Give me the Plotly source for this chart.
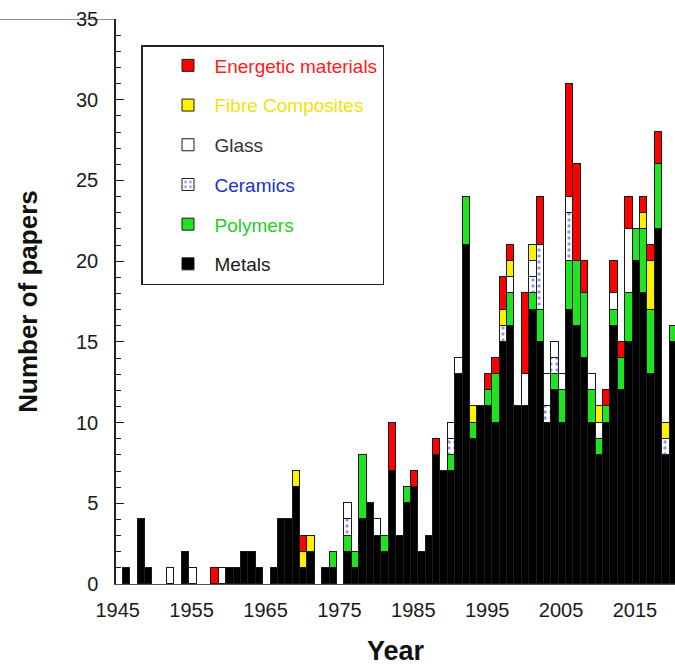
import plotly.graph_objects as go

years = list(range(1945, 2020))

metals = [1, 0, 4, 1, 0, 0, 0, 0, 2, 0,
          0, 0, 0, 0, 1, 1, 2, 2, 1, 0,
          1, 4, 4, 6, 1, 2, 0, 1, 1, 0,
          2, 1, 4, 5, 3, 2, 7, 3, 5, 6,
          2, 3, 8, 7, 7, 13, 21, 9, 11, 11,
          10, 15, 16, 11, 11, 17, 15, 10, 12, 10,
          17, 16, 14, 10, 8, 10, 16, 12, 15, 20,
          18, 13, 22, 8, 15]
polymers = [0, 0, 0, 0, 0, 0, 0, 0, 0, 0,
            0, 0, 0, 0, 0, 0, 0, 0, 0, 0,
            0, 0, 0, 0, 0, 0, 0, 0, 1, 0,
            1, 1, 4, 0, 0, 1, 0, 0, 1, 0,
            0, 0, 0, 0, 1, 0, 3, 1, 0, 1,
            3, 0, 2, 0, 0, 1, 2, 0, 1, 2,
            3, 4, 4, 2, 1, 1, 1, 2, 3, 2,
            4, 4, 4, 0, 1]
ceramics = [0, 0, 0, 0, 0, 0, 0, 0, 0, 0,
            0, 0, 0, 0, 0, 0, 0, 0, 0, 0,
            0, 0, 0, 0, 0, 0, 0, 0, 0, 0,
            1, 0, 0, 0, 0, 0, 0, 0, 0, 0,
            0, 0, 0, 0, 1, 0, 0, 0, 0, 0,
            0, 1, 0, 0, 0, 1, 4, 1, 1, 0,
            3, 0, 0, 0, 0, 0, 0, 0, 0, 0,
            0, 0, 0, 1, 0]
glass = [0, 0, 0, 0, 0, 0, 1, 0, 0, 1,
         0, 0, 0, 1, 0, 0, 0, 0, 0, 0,
         0, 0, 0, 0, 0, 0, 0, 0, 0, 0,
         1, 0, 0, 0, 1, 0, 0, 0, 0, 0,
         0, 0, 0, 0, 1, 1, 0, 0, 0, 0,
         0, 0, 1, 0, 2, 1, 0, 2, 1, 1,
         1, 0, 0, 1, 1, 0, 1, 0, 4, 0,
         0, 0, 0, 0, 0]
fibre = [0, 0, 0, 0, 0, 0, 0, 0, 0, 0,
         0, 0, 0, 0, 0, 0, 0, 0, 0, 0,
         0, 0, 0, 1, 1, 1, 0, 0, 0, 0,
         0, 0, 0, 0, 0, 0, 0, 0, 0, 0,
         0, 0, 0, 0, 0, 0, 0, 1, 0, 0,
         0, 1, 1, 0, 0, 1, 0, 0, 0, 0,
         0, 0, 0, 0, 1, 0, 0, 0, 0, 0,
         1, 3, 0, 1, 0]
energetic = [0, 0, 0, 0, 0, 0, 0, 0, 0, 0,
             0, 0, 1, 0, 0, 0, 0, 0, 0, 0,
             0, 0, 0, 0, 1, 0, 0, 0, 0, 0,
             0, 0, 0, 0, 0, 0, 3, 0, 0, 1,
             0, 0, 1, 0, 0, 0, 0, 0, 0, 1,
             1, 2, 1, 0, 5, 0, 3, 0, 0, 0,
             7, 6, 2, 0, 0, 1, 2, 1, 2, 0,
             1, 1, 2, 0, 0]

tick_years = [1945, 1955, 1965, 1975, 1985, 1995, 2005, 2015]

FONT = "Liberation Sans, Arial, Helvetica, sans-serif"

series = [
    ("Metals", metals, "#000000", "#1a1a1a", None),
    ("Polymers", polymers, "#22e322", "#22d022", None),
    ("Ceramics", ceramics, "#ffffff", "#2030d0", "dots"),
    ("Glass", glass, "#ffffff", "#333333", None),
    ("Fibre Composites", fibre, "#fff200", "#f2e20a", None),
    ("Energetic materials", energetic, "#ff0000", "#ff1a1a", None),
]

fig = go.Figure()
n = len(series)
for i, (name, vals, color, txtcol, pat) in enumerate(series):
    marker = dict(color=color, line=dict(color="#1a1a1a", width=1))
    if pat:
        marker["pattern"] = dict(shape=".", fgcolor="#2030d0", bgcolor="#ffffff",
                                 size=6, solidity=0.25, fillmode="overlay")
    fig.add_trace(go.Bar(
        x=years, y=[v if v else None for v in vals], width=1, offset=0,
        marker=marker, legendgroup=name, legendrank=1000 - i,
        name=f"<span style='color:{txtcol}'>{name}</span>",
    ))

L, R, T, B = 116, 0, 19, 82
W, H = 675, 666
pw = W - L - R
xr = [1944.09, 2019.74]

fig.update_layout(
    width=W, height=H,
    margin=dict(l=L, r=R, t=T, b=B),
    barmode="stack", bargap=0,
    plot_bgcolor="white", paper_bgcolor="white",
    font=dict(family=FONT, color="#1a1a1a", size=20),
    showlegend=True,
    legend=dict(
        x=(141 - L) / pw, y=1 - (45 - T) / (H - T - B),
        xanchor="left", yanchor="top",
        bgcolor="white", bordercolor="#222222", borderwidth=1.5,
        font=dict(family=FONT, size=19),
        traceorder="grouped", tracegroupgap=12,
        indentation=19, itemwidth=43,
    ),
    xaxis=dict(
        range=xr, tickvals=tick_years, ticktext=[str(t) for t in tick_years],
        showline=True, linecolor="#555555", linewidth=1,
        ticks="", showgrid=False, zeroline=False,
        tickfont=dict(size=20, family=FONT, color="#1a1a1a"),
        ticklabelshift=-5, ticklabelstandoff=8,
        title=dict(text="<b>Year</b>", font=dict(size=27, family=FONT, color="#111111"), standoff=23),
    ),
    xaxis2=dict(
        range=xr, overlaying="x", side="top", anchor="y",
        tick0=1945.54, dtick=1.82, ticks="inside", ticklen=8, tickwidth=1.2,
        tickcolor="#222222", showticklabels=False, showgrid=False, zeroline=False,
        showline=True, linecolor="#222222", linewidth=1.5,
    ),
    yaxis=dict(
        range=[0, 35], dtick=5, ticks="inside", ticklen=8, tickwidth=1.2,
        tickcolor="#222222", showline=True, linecolor="#222222", linewidth=1.5,
        showgrid=False, zeroline=False,
        minor=dict(dtick=1, ticks="inside", ticklen=5, tickwidth=1.2, tickcolor="#222222"),
        tickfont=dict(size=20, family=FONT, color="#1a1a1a"),
        ticklabelstandoff=12,
        title=dict(text="<b>Number of papers</b>", font=dict(size=26, family=FONT, color="#111111"), standoff=31),
    ),
    shapes=[dict(type="line", xref="paper", yref="y", x0=-L / pw, x1=0, y0=35, y1=35,
                 line=dict(color="#222222", width=1))],
)

fig.write_html("out.html")
